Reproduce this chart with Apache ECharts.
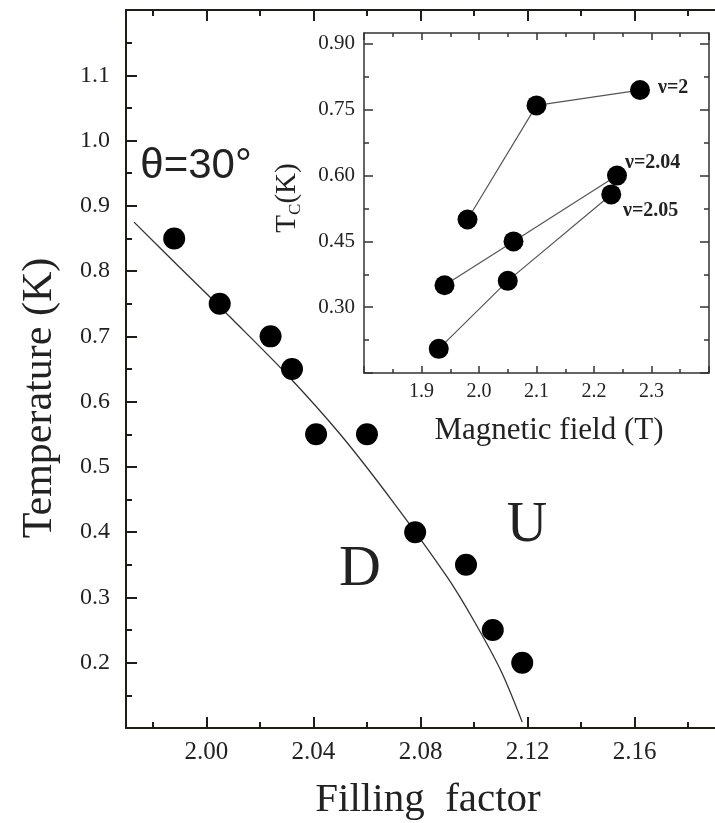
<!DOCTYPE html>
<html><head><meta charset="utf-8">
<script src="https://cdn.jsdelivr.net/npm/echarts@6/dist/echarts.min.js"></script>
<style>html,body{margin:0;padding:0;background:#fff}#c{width:715px;height:823px}</style>
</head><body><div id="c"></div>
<script>
// ---- main panel data ----
const fillingFactor = [1.988, 2.005, 2.024, 2.032, 2.041, 2.060, 2.078, 2.097, 2.107, 2.118];
const temperature   = [0.85, 0.75, 0.70, 0.65, 0.55, 0.55, 0.40, 0.35, 0.25, 0.20];
const fitNu = [1.973, 1.99, 2.01, 2.03, 2.05, 2.07, 2.09, 2.10, 2.11, 2.118];
const fitT  = [0.875, 0.806, 0.725, 0.642, 0.550, 0.445, 0.331, 0.264, 0.188, 0.109];
const mainXMajor = [2.00, 2.04, 2.08, 2.12, 2.16];
const mainXMinor = [1.98, 2.02, 2.06, 2.10, 2.14, 2.18];
// ---- inset data ----
const field2   = [1.98, 2.10, 2.28];  const tc2   = [0.50, 0.76, 0.795];
const field204 = [1.94, 2.06, 2.24];  const tc204 = [0.35, 0.45, 0.60];
const field205 = [1.93, 2.05, 2.23];  const tc205 = [0.205, 0.36, 0.557];
const insetYMajor  = [0.15, 0.30, 0.45, 0.60, 0.75, 0.90];
const insetYLabels = [0.30, 0.45, 0.60, 0.75, 0.90];
const insetYMinor  = [0.225, 0.375, 0.525, 0.675, 0.825];

const zip = (a, b) => a.map((v, i) => [v, b[i]]);
const AX = '#1e1e18';
const SERIF = 'Liberation Serif';

function xAx(o) {
  return Object.assign({
    type: 'value', splitLine: {show: false},
    axisLine: {show: true, onZero: false, lineStyle: {color: AX, width: 2}},
    axisTick: {show: true, inside: true, length: 11, lineStyle: {color: AX, width: 2}},
    axisLabel: {show: false}
  }, o);
}

const chart = echarts.init(document.getElementById('c'));
chart.setOption({
  backgroundColor: '#fff',
  animation: false,
  grid: [
    {left: 126, top: 10, right: -12, bottom: 95},
    {left: 364, top: 33, right: 6, bottom: 450}
  ],
  xAxis: [
    xAx({gridIndex: 0, position: 'bottom', min: 1.97, max: 2.19,
      axisTick: {show: true, inside: true, length: 11, customValues: mainXMajor, lineStyle: {color: AX, width: 2}},
      axisLabel: {show: true, customValues: mainXMajor, margin: 12, fontSize: 25, fontFamily: SERIF, color: '#222',
        formatter: v => v.toFixed(2)}}),
    xAx({gridIndex: 0, position: 'bottom', min: 1.97, max: 2.19, axisLine: {show: false},
      axisTick: {show: true, inside: true, length: 6, customValues: mainXMinor, lineStyle: {color: AX, width: 2}}}),
    xAx({gridIndex: 0, position: 'top', min: 1.97, max: 2.19,
      axisTick: {show: true, inside: true, length: 11, customValues: mainXMajor, lineStyle: {color: AX, width: 2}}}),
    xAx({gridIndex: 0, position: 'top', min: 1.97, max: 2.19, axisLine: {show: false},
      axisTick: {show: true, inside: true, length: 6, customValues: mainXMinor, lineStyle: {color: AX, width: 2}}}),
    // inset
    xAx({gridIndex: 1, position: 'bottom', min: 1.8, max: 2.4, interval: 0.1,
      axisLine: {show: true, onZero: false, lineStyle: {color: '#333', width: 1.5}},
      axisTick: {show: true, inside: true, length: 7, lineStyle: {color: '#333', width: 1.5}},
      minorTick: {show: true, splitNumber: 2, length: 4, lineStyle: {color: '#333', width: 1.5}},
      axisLabel: {show: true, showMinLabel: false, showMaxLabel: false, margin: 9, fontSize: 20, fontFamily: SERIF,
        color: '#222', formatter: v => v.toFixed(1)}}),
    xAx({gridIndex: 1, position: 'top', min: 1.8, max: 2.4, interval: 0.1,
      axisLine: {show: true, onZero: false, lineStyle: {color: '#333', width: 1.5}},
      axisTick: {show: true, inside: true, length: 7, lineStyle: {color: '#333', width: 1.5}},
      minorTick: {show: true, splitNumber: 2, length: 4, lineStyle: {color: '#333', width: 1.5}}})
  ],
  yAxis: [
    {type: 'value', gridIndex: 0, position: 'left', min: 0.1, max: 1.2, interval: 0.1, splitLine: {show: false},
      axisLine: {show: true, onZero: false, lineStyle: {color: AX, width: 2}},
      axisTick: {show: true, inside: true, length: 11, lineStyle: {color: AX, width: 2}},
      minorTick: {show: true, splitNumber: 2, length: 6, lineStyle: {color: AX, width: 2}},
      axisLabel: {show: true, showMinLabel: false, showMaxLabel: false, margin: 16, fontSize: 24, fontFamily: SERIF,
        color: '#222', formatter: v => v.toFixed(1)}},
    {type: 'value', gridIndex: 1, position: 'left', min: 0.15, max: 0.925, splitLine: {show: false},
      axisLine: {show: true, onZero: false, lineStyle: {color: '#333', width: 1.5}},
      axisTick: {show: true, inside: true, length: 9, customValues: insetYMajor, lineStyle: {color: '#333', width: 1.5}},
      axisLabel: {show: true, customValues: insetYLabels, margin: 9, fontSize: 21, fontFamily: SERIF, color: '#222',
        formatter: v => v.toFixed(2)}},
    {type: 'value', gridIndex: 1, position: 'left', min: 0.15, max: 0.925, splitLine: {show: false},
      axisLine: {show: false},
      axisTick: {show: true, inside: true, length: 5, customValues: insetYMinor, lineStyle: {color: '#333', width: 1.5}},
      axisLabel: {show: false}},
    {type: 'value', gridIndex: 1, position: 'right', min: 0.15, max: 0.925, splitLine: {show: false},
      axisLine: {show: true, onZero: false, lineStyle: {color: '#333', width: 1.5}},
      axisTick: {show: true, inside: true, length: 9, customValues: insetYMajor, lineStyle: {color: '#333', width: 1.5}},
      axisLabel: {show: false}},
    {type: 'value', gridIndex: 1, position: 'right', min: 0.15, max: 0.925, splitLine: {show: false},
      axisLine: {show: false},
      axisTick: {show: true, inside: true, length: 5, customValues: insetYMinor, lineStyle: {color: '#333', width: 1.5}},
      axisLabel: {show: false}}
  ],
  series: [
    {type: 'line', xAxisIndex: 0, yAxisIndex: 0, data: zip(fitNu, fitT), showSymbol: false, smooth: 0.3,
      lineStyle: {color: '#333', width: 1.3}, z: 2},
    {type: 'scatter', xAxisIndex: 0, yAxisIndex: 0, data: zip(fillingFactor, temperature), symbol: 'circle',
      symbolSize: 22, itemStyle: {color: '#000', opacity: 1}, z: 3},
    {type: 'line', xAxisIndex: 4, yAxisIndex: 1, data: zip(field2, tc2), symbol: 'circle', symbolSize: 20,
      itemStyle: {color: '#000', opacity: 1}, lineStyle: {color: '#555', width: 1.2}},
    {type: 'line', xAxisIndex: 4, yAxisIndex: 1, data: zip(field204, tc204), symbol: 'circle', symbolSize: 20,
      itemStyle: {color: '#000', opacity: 1}, lineStyle: {color: '#555', width: 1.2}},
    {type: 'line', xAxisIndex: 4, yAxisIndex: 1, data: zip(field205, tc205), symbol: 'circle', symbolSize: 20,
      itemStyle: {color: '#000', opacity: 1}, lineStyle: {color: '#555', width: 1.2}}
  ],
  graphic: [
    {type: 'text', x: 40, y: 398, rotation: Math.PI / 2,
      style: {text: 'Temperature (K)', fontSize: 42, fontFamily: SERIF, fill: '#222', align: 'center', verticalAlign: 'middle'}},
    {type: 'text', x: 428, y: 800,
      style: {text: 'Filling  factor', fontSize: 41, fontFamily: SERIF, fill: '#222', align: 'center', verticalAlign: 'middle'}},
    {type: 'text', x: 196, y: 166,
      style: {text: 'θ=30°', fontSize: 42, fontFamily: 'Liberation Sans', fill: '#222', align: 'center', verticalAlign: 'middle'}},
    {type: 'text', x: 360, y: 570,
      style: {text: 'D', fontSize: 58, fontFamily: SERIF, fill: '#222', align: 'center', verticalAlign: 'middle'}},
    {type: 'text', x: 527, y: 526,
      style: {text: 'U', fontSize: 56, fontFamily: SERIF, fill: '#222', align: 'center', verticalAlign: 'middle'}},
    {type: 'text', x: 549, y: 431,
      style: {text: 'Magnetic field (T)', fontSize: 31, fontFamily: SERIF, fill: '#222', align: 'center', verticalAlign: 'middle'}},
    {type: 'text', x: 287, y: 198, rotation: Math.PI / 2,
      style: {text: '{t|T}{s|C}{t|(K)}', align: 'center', verticalAlign: 'middle', fill: '#222',
        rich: {t: {fontSize: 29, fontFamily: SERIF, fill: '#222', lineHeight: 34, verticalAlign: 'middle'},
               s: {fontSize: 17, fontFamily: SERIF, fill: '#222', lineHeight: 34, verticalAlign: 'bottom', padding: [12, 0, 0, 0]}}}},
    {type: 'text', x: 658, y: 88,
      style: {text: 'ν=2', fontSize: 20, fontWeight: 'bold', fontFamily: SERIF, fill: '#222', align: 'left', verticalAlign: 'middle'}},
    {type: 'text', x: 625, y: 163,
      style: {text: 'ν=2.04', fontSize: 20, fontWeight: 'bold', fontFamily: SERIF, fill: '#222', align: 'left', verticalAlign: 'middle'}},
    {type: 'text', x: 623, y: 211,
      style: {text: 'ν=2.05', fontSize: 20, fontWeight: 'bold', fontFamily: SERIF, fill: '#222', align: 'left', verticalAlign: 'middle'}}
  ]
});
</script>
</body></html>
